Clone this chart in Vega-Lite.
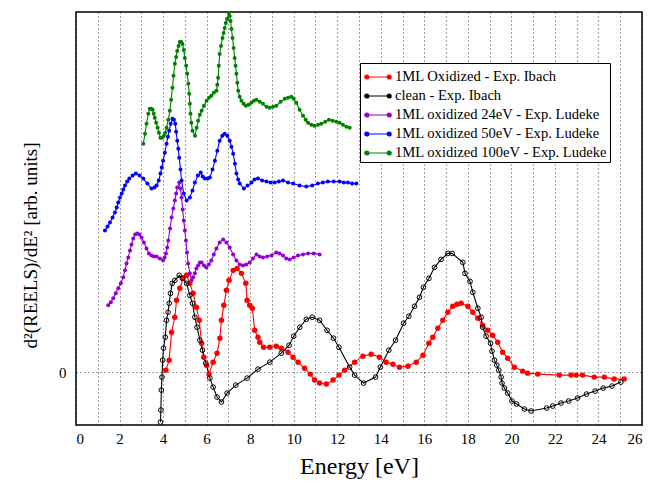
{
  "$schema": "https://vega.github.io/schema/vega-lite/v6.json",
  "width": 566,
  "height": 413,
  "autosize": {"type": "none"},
  "padding": {"left": 76, "top": 12, "right": 10, "bottom": 62},
  "background": "white",
  "config": {
    "font": "Liberation Serif",
    "view": {"stroke": "#000", "strokeWidth": 1.5}
  },
  "data": {"values": [
    {"s":"1ML Oxidized - Exp. Ibach","x":4.13,"y":2},
    {"s":"1ML Oxidized - Exp. Ibach","x":4.28,"y":12},
    {"s":"1ML Oxidized - Exp. Ibach","x":4.39,"y":40},
    {"s":"1ML Oxidized - Exp. Ibach","x":4.54,"y":55},
    {"s":"1ML Oxidized - Exp. Ibach","x":4.62,"y":72},
    {"s":"1ML Oxidized - Exp. Ibach","x":4.77,"y":84},
    {"s":"1ML Oxidized - Exp. Ibach","x":4.92,"y":94},
    {"s":"1ML Oxidized - Exp. Ibach","x":5.08,"y":97},
    {"s":"1ML Oxidized - Exp. Ibach","x":5.23,"y":89},
    {"s":"1ML Oxidized - Exp. Ibach","x":5.38,"y":79},
    {"s":"1ML Oxidized - Exp. Ibach","x":5.53,"y":65},
    {"s":"1ML Oxidized - Exp. Ibach","x":5.66,"y":52},
    {"s":"1ML Oxidized - Exp. Ibach","x":5.77,"y":29},
    {"s":"1ML Oxidized - Exp. Ibach","x":5.87,"y":15},
    {"s":"1ML Oxidized - Exp. Ibach","x":6.0,"y":7},
    {"s":"1ML Oxidized - Exp. Ibach","x":6.11,"y":-2},
    {"s":"1ML Oxidized - Exp. Ibach","x":6.3,"y":10},
    {"s":"1ML Oxidized - Exp. Ibach","x":6.48,"y":19},
    {"s":"1ML Oxidized - Exp. Ibach","x":6.61,"y":34},
    {"s":"1ML Oxidized - Exp. Ibach","x":6.68,"y":52},
    {"s":"1ML Oxidized - Exp. Ibach","x":6.79,"y":67},
    {"s":"1ML Oxidized - Exp. Ibach","x":6.91,"y":82},
    {"s":"1ML Oxidized - Exp. Ibach","x":7.03,"y":92},
    {"s":"1ML Oxidized - Exp. Ibach","x":7.22,"y":102},
    {"s":"1ML Oxidized - Exp. Ibach","x":7.4,"y":104},
    {"s":"1ML Oxidized - Exp. Ibach","x":7.6,"y":99},
    {"s":"1ML Oxidized - Exp. Ibach","x":7.8,"y":89},
    {"s":"1ML Oxidized - Exp. Ibach","x":7.86,"y":72},
    {"s":"1ML Oxidized - Exp. Ibach","x":7.98,"y":67},
    {"s":"1ML Oxidized - Exp. Ibach","x":8.1,"y":64},
    {"s":"1ML Oxidized - Exp. Ibach","x":8.21,"y":42},
    {"s":"1ML Oxidized - Exp. Ibach","x":8.36,"y":35},
    {"s":"1ML Oxidized - Exp. Ibach","x":8.44,"y":30},
    {"s":"1ML Oxidized - Exp. Ibach","x":8.62,"y":25},
    {"s":"1ML Oxidized - Exp. Ibach","x":8.9,"y":25},
    {"s":"1ML Oxidized - Exp. Ibach","x":9.2,"y":26},
    {"s":"1ML Oxidized - Exp. Ibach","x":9.43,"y":24},
    {"s":"1ML Oxidized - Exp. Ibach","x":9.74,"y":20},
    {"s":"1ML Oxidized - Exp. Ibach","x":9.97,"y":15},
    {"s":"1ML Oxidized - Exp. Ibach","x":10.2,"y":10},
    {"s":"1ML Oxidized - Exp. Ibach","x":10.5,"y":4},
    {"s":"1ML Oxidized - Exp. Ibach","x":10.76,"y":-2},
    {"s":"1ML Oxidized - Exp. Ibach","x":10.96,"y":-8},
    {"s":"1ML Oxidized - Exp. Ibach","x":11.19,"y":-11},
    {"s":"1ML Oxidized - Exp. Ibach","x":11.5,"y":-12},
    {"s":"1ML Oxidized - Exp. Ibach","x":11.81,"y":-8},
    {"s":"1ML Oxidized - Exp. Ibach","x":12.08,"y":-3},
    {"s":"1ML Oxidized - Exp. Ibach","x":12.34,"y":2},
    {"s":"1ML Oxidized - Exp. Ibach","x":12.8,"y":10},
    {"s":"1ML Oxidized - Exp. Ibach","x":13.18,"y":16},
    {"s":"1ML Oxidized - Exp. Ibach","x":13.56,"y":18},
    {"s":"1ML Oxidized - Exp. Ibach","x":13.94,"y":15},
    {"s":"1ML Oxidized - Exp. Ibach","x":14.25,"y":10},
    {"s":"1ML Oxidized - Exp. Ibach","x":14.56,"y":8},
    {"s":"1ML Oxidized - Exp. Ibach","x":14.86,"y":5},
    {"s":"1ML Oxidized - Exp. Ibach","x":15.25,"y":6},
    {"s":"1ML Oxidized - Exp. Ibach","x":15.63,"y":10},
    {"s":"1ML Oxidized - Exp. Ibach","x":15.94,"y":17},
    {"s":"1ML Oxidized - Exp. Ibach","x":16.21,"y":29},
    {"s":"1ML Oxidized - Exp. Ibach","x":16.39,"y":35},
    {"s":"1ML Oxidized - Exp. Ibach","x":16.62,"y":44},
    {"s":"1ML Oxidized - Exp. Ibach","x":16.85,"y":52},
    {"s":"1ML Oxidized - Exp. Ibach","x":17.08,"y":60},
    {"s":"1ML Oxidized - Exp. Ibach","x":17.31,"y":66},
    {"s":"1ML Oxidized - Exp. Ibach","x":17.5,"y":68},
    {"s":"1ML Oxidized - Exp. Ibach","x":17.69,"y":69},
    {"s":"1ML Oxidized - Exp. Ibach","x":18.0,"y":66},
    {"s":"1ML Oxidized - Exp. Ibach","x":18.23,"y":60},
    {"s":"1ML Oxidized - Exp. Ibach","x":18.46,"y":54},
    {"s":"1ML Oxidized - Exp. Ibach","x":18.68,"y":47},
    {"s":"1ML Oxidized - Exp. Ibach","x":18.91,"y":42},
    {"s":"1ML Oxidized - Exp. Ibach","x":19.14,"y":37},
    {"s":"1ML Oxidized - Exp. Ibach","x":19.37,"y":30},
    {"s":"1ML Oxidized - Exp. Ibach","x":19.6,"y":20},
    {"s":"1ML Oxidized - Exp. Ibach","x":19.83,"y":14},
    {"s":"1ML Oxidized - Exp. Ibach","x":20.14,"y":5},
    {"s":"1ML Oxidized - Exp. Ibach","x":20.52,"y":1},
    {"s":"1ML Oxidized - Exp. Ibach","x":20.75,"y":-1},
    {"s":"1ML Oxidized - Exp. Ibach","x":21.21,"y":-2},
    {"s":"1ML Oxidized - Exp. Ibach","x":22.2,"y":-3},
    {"s":"1ML Oxidized - Exp. Ibach","x":22.74,"y":-3},
    {"s":"1ML Oxidized - Exp. Ibach","x":22.97,"y":-3},
    {"s":"1ML Oxidized - Exp. Ibach","x":23.27,"y":-3},
    {"s":"1ML Oxidized - Exp. Ibach","x":23.81,"y":-5},
    {"s":"1ML Oxidized - Exp. Ibach","x":24.27,"y":-5},
    {"s":"1ML Oxidized - Exp. Ibach","x":24.72,"y":-7},
    {"s":"1ML Oxidized - Exp. Ibach","x":25.18,"y":-7},

    {"s":"clean - Exp. Ibach","x":3.88,"y":-50},
    {"s":"clean - Exp. Ibach","x":3.9,"y":-38},
    {"s":"clean - Exp. Ibach","x":3.92,"y":-18},
    {"s":"clean - Exp. Ibach","x":3.95,"y":-5},
    {"s":"clean - Exp. Ibach","x":3.98,"y":12},
    {"s":"clean - Exp. Ibach","x":4.02,"y":24},
    {"s":"clean - Exp. Ibach","x":4.1,"y":35},
    {"s":"clean - Exp. Ibach","x":4.16,"y":52},
    {"s":"clean - Exp. Ibach","x":4.23,"y":60},
    {"s":"clean - Exp. Ibach","x":4.28,"y":69},
    {"s":"clean - Exp. Ibach","x":4.34,"y":79},
    {"s":"clean - Exp. Ibach","x":4.42,"y":89},
    {"s":"clean - Exp. Ibach","x":4.54,"y":92},
    {"s":"clean - Exp. Ibach","x":4.74,"y":97},
    {"s":"clean - Exp. Ibach","x":4.89,"y":94},
    {"s":"clean - Exp. Ibach","x":5.08,"y":89},
    {"s":"clean - Exp. Ibach","x":5.23,"y":77},
    {"s":"clean - Exp. Ibach","x":5.35,"y":69},
    {"s":"clean - Exp. Ibach","x":5.46,"y":55},
    {"s":"clean - Exp. Ibach","x":5.56,"y":45},
    {"s":"clean - Exp. Ibach","x":5.69,"y":32},
    {"s":"clean - Exp. Ibach","x":5.81,"y":22},
    {"s":"clean - Exp. Ibach","x":5.96,"y":9},
    {"s":"clean - Exp. Ibach","x":6.15,"y":-6},
    {"s":"clean - Exp. Ibach","x":6.3,"y":-15},
    {"s":"clean - Exp. Ibach","x":6.48,"y":-25},
    {"s":"clean - Exp. Ibach","x":6.68,"y":-30},
    {"s":"clean - Exp. Ibach","x":6.94,"y":-21},
    {"s":"clean - Exp. Ibach","x":7.34,"y":-13},
    {"s":"clean - Exp. Ibach","x":7.86,"y":-6},
    {"s":"clean - Exp. Ibach","x":8.36,"y":3},
    {"s":"clean - Exp. Ibach","x":8.9,"y":10},
    {"s":"clean - Exp. Ibach","x":9.43,"y":19},
    {"s":"clean - Exp. Ibach","x":9.79,"y":27},
    {"s":"clean - Exp. Ibach","x":10.0,"y":36},
    {"s":"clean - Exp. Ibach","x":10.28,"y":45},
    {"s":"clean - Exp. Ibach","x":10.58,"y":53},
    {"s":"clean - Exp. Ibach","x":10.85,"y":55},
    {"s":"clean - Exp. Ibach","x":11.19,"y":52},
    {"s":"clean - Exp. Ibach","x":11.53,"y":42},
    {"s":"clean - Exp. Ibach","x":11.83,"y":34},
    {"s":"clean - Exp. Ibach","x":12.08,"y":25},
    {"s":"clean - Exp. Ibach","x":12.57,"y":5},
    {"s":"clean - Exp. Ibach","x":12.8,"y":-3},
    {"s":"clean - Exp. Ibach","x":13.21,"y":-11},
    {"s":"clean - Exp. Ibach","x":13.76,"y":-5},
    {"s":"clean - Exp. Ibach","x":13.98,"y":5},
    {"s":"clean - Exp. Ibach","x":14.37,"y":22},
    {"s":"clean - Exp. Ibach","x":14.68,"y":32},
    {"s":"clean - Exp. Ibach","x":15.05,"y":49},
    {"s":"clean - Exp. Ibach","x":15.29,"y":56},
    {"s":"clean - Exp. Ibach","x":15.55,"y":66},
    {"s":"clean - Exp. Ibach","x":15.78,"y":75},
    {"s":"clean - Exp. Ibach","x":15.96,"y":85},
    {"s":"clean - Exp. Ibach","x":16.21,"y":94},
    {"s":"clean - Exp. Ibach","x":16.47,"y":105},
    {"s":"clean - Exp. Ibach","x":16.77,"y":113},
    {"s":"clean - Exp. Ibach","x":17.08,"y":119},
    {"s":"clean - Exp. Ibach","x":17.28,"y":119},
    {"s":"clean - Exp. Ibach","x":17.77,"y":110},
    {"s":"clean - Exp. Ibach","x":17.87,"y":99},
    {"s":"clean - Exp. Ibach","x":18.1,"y":91},
    {"s":"clean - Exp. Ibach","x":18.23,"y":80},
    {"s":"clean - Exp. Ibach","x":18.46,"y":64},
    {"s":"clean - Exp. Ibach","x":18.61,"y":55},
    {"s":"clean - Exp. Ibach","x":18.68,"y":45},
    {"s":"clean - Exp. Ibach","x":18.84,"y":36},
    {"s":"clean - Exp. Ibach","x":19.04,"y":29},
    {"s":"clean - Exp. Ibach","x":19.11,"y":21},
    {"s":"clean - Exp. Ibach","x":19.22,"y":12},
    {"s":"clean - Exp. Ibach","x":19.33,"y":7},
    {"s":"clean - Exp. Ibach","x":19.42,"y":2},
    {"s":"clean - Exp. Ibach","x":19.53,"y":-5},
    {"s":"clean - Exp. Ibach","x":19.57,"y":-11},
    {"s":"clean - Exp. Ibach","x":19.68,"y":-16},
    {"s":"clean - Exp. Ibach","x":19.83,"y":-21},
    {"s":"clean - Exp. Ibach","x":20.03,"y":-29},
    {"s":"clean - Exp. Ibach","x":20.24,"y":-32},
    {"s":"clean - Exp. Ibach","x":20.6,"y":-37},
    {"s":"clean - Exp. Ibach","x":20.9,"y":-39},
    {"s":"clean - Exp. Ibach","x":21.62,"y":-36},
    {"s":"clean - Exp. Ibach","x":21.9,"y":-34},
    {"s":"clean - Exp. Ibach","x":22.28,"y":-31},
    {"s":"clean - Exp. Ibach","x":22.63,"y":-29},
    {"s":"clean - Exp. Ibach","x":23.04,"y":-26},
    {"s":"clean - Exp. Ibach","x":23.45,"y":-22},
    {"s":"clean - Exp. Ibach","x":23.85,"y":-19},
    {"s":"clean - Exp. Ibach","x":24.22,"y":-16},
    {"s":"clean - Exp. Ibach","x":24.62,"y":-14},
    {"s":"clean - Exp. Ibach","x":25.03,"y":-10},

    {"s":"1ML oxidized 24eV - Exp. Ludeke","x":1.48,"y":67},
    {"s":"1ML oxidized 24eV - Exp. Ludeke","x":1.6,"y":70},
    {"s":"1ML oxidized 24eV - Exp. Ludeke","x":1.71,"y":74},
    {"s":"1ML oxidized 24eV - Exp. Ludeke","x":1.83,"y":79},
    {"s":"1ML oxidized 24eV - Exp. Ludeke","x":1.94,"y":84},
    {"s":"1ML oxidized 24eV - Exp. Ludeke","x":2.06,"y":89},
    {"s":"1ML oxidized 24eV - Exp. Ludeke","x":2.17,"y":95},
    {"s":"1ML oxidized 24eV - Exp. Ludeke","x":2.25,"y":102},
    {"s":"1ML oxidized 24eV - Exp. Ludeke","x":2.32,"y":109},
    {"s":"1ML oxidized 24eV - Exp. Ludeke","x":2.4,"y":115},
    {"s":"1ML oxidized 24eV - Exp. Ludeke","x":2.48,"y":122},
    {"s":"1ML oxidized 24eV - Exp. Ludeke","x":2.55,"y":128},
    {"s":"1ML oxidized 24eV - Exp. Ludeke","x":2.63,"y":134},
    {"s":"1ML oxidized 24eV - Exp. Ludeke","x":2.72,"y":138},
    {"s":"1ML oxidized 24eV - Exp. Ludeke","x":2.81,"y":139},
    {"s":"1ML oxidized 24eV - Exp. Ludeke","x":2.91,"y":138},
    {"s":"1ML oxidized 24eV - Exp. Ludeke","x":3.01,"y":135},
    {"s":"1ML oxidized 24eV - Exp. Ludeke","x":3.12,"y":130},
    {"s":"1ML oxidized 24eV - Exp. Ludeke","x":3.24,"y":124},
    {"s":"1ML oxidized 24eV - Exp. Ludeke","x":3.35,"y":119},
    {"s":"1ML oxidized 24eV - Exp. Ludeke","x":3.47,"y":117},
    {"s":"1ML oxidized 24eV - Exp. Ludeke","x":3.58,"y":116},
    {"s":"1ML oxidized 24eV - Exp. Ludeke","x":3.7,"y":116},
    {"s":"1ML oxidized 24eV - Exp. Ludeke","x":3.85,"y":114},
    {"s":"1ML oxidized 24eV - Exp. Ludeke","x":4.0,"y":112},
    {"s":"1ML oxidized 24eV - Exp. Ludeke","x":4.07,"y":115},
    {"s":"1ML oxidized 24eV - Exp. Ludeke","x":4.13,"y":119},
    {"s":"1ML oxidized 24eV - Exp. Ludeke","x":4.19,"y":125},
    {"s":"1ML oxidized 24eV - Exp. Ludeke","x":4.24,"y":132},
    {"s":"1ML oxidized 24eV - Exp. Ludeke","x":4.32,"y":144},
    {"s":"1ML oxidized 24eV - Exp. Ludeke","x":4.39,"y":155},
    {"s":"1ML oxidized 24eV - Exp. Ludeke","x":4.47,"y":164},
    {"s":"1ML oxidized 24eV - Exp. Ludeke","x":4.54,"y":172},
    {"s":"1ML oxidized 24eV - Exp. Ludeke","x":4.6,"y":179},
    {"s":"1ML oxidized 24eV - Exp. Ludeke","x":4.65,"y":185},
    {"s":"1ML oxidized 24eV - Exp. Ludeke","x":4.74,"y":190},
    {"s":"1ML oxidized 24eV - Exp. Ludeke","x":4.8,"y":184},
    {"s":"1ML oxidized 24eV - Exp. Ludeke","x":4.85,"y":175},
    {"s":"1ML oxidized 24eV - Exp. Ludeke","x":4.9,"y":163},
    {"s":"1ML oxidized 24eV - Exp. Ludeke","x":4.95,"y":152},
    {"s":"1ML oxidized 24eV - Exp. Ludeke","x":5.0,"y":142},
    {"s":"1ML oxidized 24eV - Exp. Ludeke","x":5.05,"y":132},
    {"s":"1ML oxidized 24eV - Exp. Ludeke","x":5.1,"y":120},
    {"s":"1ML oxidized 24eV - Exp. Ludeke","x":5.15,"y":109},
    {"s":"1ML oxidized 24eV - Exp. Ludeke","x":5.23,"y":99},
    {"s":"1ML oxidized 24eV - Exp. Ludeke","x":5.31,"y":92},
    {"s":"1ML oxidized 24eV - Exp. Ludeke","x":5.38,"y":95},
    {"s":"1ML oxidized 24eV - Exp. Ludeke","x":5.46,"y":99},
    {"s":"1ML oxidized 24eV - Exp. Ludeke","x":5.53,"y":104},
    {"s":"1ML oxidized 24eV - Exp. Ludeke","x":5.61,"y":107},
    {"s":"1ML oxidized 24eV - Exp. Ludeke","x":5.69,"y":110},
    {"s":"1ML oxidized 24eV - Exp. Ludeke","x":5.77,"y":110},
    {"s":"1ML oxidized 24eV - Exp. Ludeke","x":5.88,"y":107},
    {"s":"1ML oxidized 24eV - Exp. Ludeke","x":5.99,"y":105},
    {"s":"1ML oxidized 24eV - Exp. Ludeke","x":6.1,"y":108},
    {"s":"1ML oxidized 24eV - Exp. Ludeke","x":6.22,"y":112},
    {"s":"1ML oxidized 24eV - Exp. Ludeke","x":6.33,"y":118},
    {"s":"1ML oxidized 24eV - Exp. Ludeke","x":6.45,"y":124},
    {"s":"1ML oxidized 24eV - Exp. Ludeke","x":6.6,"y":130},
    {"s":"1ML oxidized 24eV - Exp. Ludeke","x":6.76,"y":133},
    {"s":"1ML oxidized 24eV - Exp. Ludeke","x":6.91,"y":130},
    {"s":"1ML oxidized 24eV - Exp. Ludeke","x":7.06,"y":125},
    {"s":"1ML oxidized 24eV - Exp. Ludeke","x":7.22,"y":118},
    {"s":"1ML oxidized 24eV - Exp. Ludeke","x":7.37,"y":112},
    {"s":"1ML oxidized 24eV - Exp. Ludeke","x":7.52,"y":108},
    {"s":"1ML oxidized 24eV - Exp. Ludeke","x":7.67,"y":107},
    {"s":"1ML oxidized 24eV - Exp. Ludeke","x":7.82,"y":108},
    {"s":"1ML oxidized 24eV - Exp. Ludeke","x":7.98,"y":110},
    {"s":"1ML oxidized 24eV - Exp. Ludeke","x":8.13,"y":114},
    {"s":"1ML oxidized 24eV - Exp. Ludeke","x":8.29,"y":118},
    {"s":"1ML oxidized 24eV - Exp. Ludeke","x":8.44,"y":116},
    {"s":"1ML oxidized 24eV - Exp. Ludeke","x":8.59,"y":115},
    {"s":"1ML oxidized 24eV - Exp. Ludeke","x":8.78,"y":116},
    {"s":"1ML oxidized 24eV - Exp. Ludeke","x":8.98,"y":117},
    {"s":"1ML oxidized 24eV - Exp. Ludeke","x":9.2,"y":120},
    {"s":"1ML oxidized 24eV - Exp. Ludeke","x":9.35,"y":119},
    {"s":"1ML oxidized 24eV - Exp. Ludeke","x":9.51,"y":117},
    {"s":"1ML oxidized 24eV - Exp. Ludeke","x":9.66,"y":114},
    {"s":"1ML oxidized 24eV - Exp. Ludeke","x":9.82,"y":113},
    {"s":"1ML oxidized 24eV - Exp. Ludeke","x":10.0,"y":115},
    {"s":"1ML oxidized 24eV - Exp. Ludeke","x":10.2,"y":117},
    {"s":"1ML oxidized 24eV - Exp. Ludeke","x":10.43,"y":118},
    {"s":"1ML oxidized 24eV - Exp. Ludeke","x":10.66,"y":119},
    {"s":"1ML oxidized 24eV - Exp. Ludeke","x":10.92,"y":119},
    {"s":"1ML oxidized 24eV - Exp. Ludeke","x":11.19,"y":118},

    {"s":"1ML oxidized 50eV - Exp. Ludeke","x":1.33,"y":142},
    {"s":"1ML oxidized 50eV - Exp. Ludeke","x":1.45,"y":146},
    {"s":"1ML oxidized 50eV - Exp. Ludeke","x":1.56,"y":150},
    {"s":"1ML oxidized 50eV - Exp. Ludeke","x":1.68,"y":155},
    {"s":"1ML oxidized 50eV - Exp. Ludeke","x":1.79,"y":160},
    {"s":"1ML oxidized 50eV - Exp. Ludeke","x":1.87,"y":165},
    {"s":"1ML oxidized 50eV - Exp. Ludeke","x":1.94,"y":170},
    {"s":"1ML oxidized 50eV - Exp. Ludeke","x":2.02,"y":175},
    {"s":"1ML oxidized 50eV - Exp. Ludeke","x":2.1,"y":179},
    {"s":"1ML oxidized 50eV - Exp. Ludeke","x":2.17,"y":183},
    {"s":"1ML oxidized 50eV - Exp. Ludeke","x":2.25,"y":187},
    {"s":"1ML oxidized 50eV - Exp. Ludeke","x":2.35,"y":191},
    {"s":"1ML oxidized 50eV - Exp. Ludeke","x":2.45,"y":194},
    {"s":"1ML oxidized 50eV - Exp. Ludeke","x":2.6,"y":197},
    {"s":"1ML oxidized 50eV - Exp. Ludeke","x":2.75,"y":199},
    {"s":"1ML oxidized 50eV - Exp. Ludeke","x":2.92,"y":197},
    {"s":"1ML oxidized 50eV - Exp. Ludeke","x":3.09,"y":194},
    {"s":"1ML oxidized 50eV - Exp. Ludeke","x":3.28,"y":189},
    {"s":"1ML oxidized 50eV - Exp. Ludeke","x":3.47,"y":184},
    {"s":"1ML oxidized 50eV - Exp. Ludeke","x":3.6,"y":185},
    {"s":"1ML oxidized 50eV - Exp. Ludeke","x":3.7,"y":187},
    {"s":"1ML oxidized 50eV - Exp. Ludeke","x":3.8,"y":192},
    {"s":"1ML oxidized 50eV - Exp. Ludeke","x":3.88,"y":199},
    {"s":"1ML oxidized 50eV - Exp. Ludeke","x":3.94,"y":205},
    {"s":"1ML oxidized 50eV - Exp. Ludeke","x":4.0,"y":212},
    {"s":"1ML oxidized 50eV - Exp. Ludeke","x":4.08,"y":220},
    {"s":"1ML oxidized 50eV - Exp. Ludeke","x":4.16,"y":229},
    {"s":"1ML oxidized 50eV - Exp. Ludeke","x":4.22,"y":236},
    {"s":"1ML oxidized 50eV - Exp. Ludeke","x":4.28,"y":242},
    {"s":"1ML oxidized 50eV - Exp. Ludeke","x":4.35,"y":249},
    {"s":"1ML oxidized 50eV - Exp. Ludeke","x":4.43,"y":254},
    {"s":"1ML oxidized 50eV - Exp. Ludeke","x":4.5,"y":253},
    {"s":"1ML oxidized 50eV - Exp. Ludeke","x":4.56,"y":249},
    {"s":"1ML oxidized 50eV - Exp. Ludeke","x":4.6,"y":241},
    {"s":"1ML oxidized 50eV - Exp. Ludeke","x":4.65,"y":232},
    {"s":"1ML oxidized 50eV - Exp. Ludeke","x":4.7,"y":224},
    {"s":"1ML oxidized 50eV - Exp. Ludeke","x":4.74,"y":215},
    {"s":"1ML oxidized 50eV - Exp. Ludeke","x":4.8,"y":203},
    {"s":"1ML oxidized 50eV - Exp. Ludeke","x":4.85,"y":192},
    {"s":"1ML oxidized 50eV - Exp. Ludeke","x":4.95,"y":179},
    {"s":"1ML oxidized 50eV - Exp. Ludeke","x":5.08,"y":172},
    {"s":"1ML oxidized 50eV - Exp. Ludeke","x":5.23,"y":175},
    {"s":"1ML oxidized 50eV - Exp. Ludeke","x":5.35,"y":182},
    {"s":"1ML oxidized 50eV - Exp. Ludeke","x":5.46,"y":190},
    {"s":"1ML oxidized 50eV - Exp. Ludeke","x":5.6,"y":197},
    {"s":"1ML oxidized 50eV - Exp. Ludeke","x":5.73,"y":200},
    {"s":"1ML oxidized 50eV - Exp. Ludeke","x":5.82,"y":196},
    {"s":"1ML oxidized 50eV - Exp. Ludeke","x":5.92,"y":194},
    {"s":"1ML oxidized 50eV - Exp. Ludeke","x":6.04,"y":194},
    {"s":"1ML oxidized 50eV - Exp. Ludeke","x":6.15,"y":195},
    {"s":"1ML oxidized 50eV - Exp. Ludeke","x":6.27,"y":203},
    {"s":"1ML oxidized 50eV - Exp. Ludeke","x":6.38,"y":212},
    {"s":"1ML oxidized 50eV - Exp. Ludeke","x":6.49,"y":222},
    {"s":"1ML oxidized 50eV - Exp. Ludeke","x":6.6,"y":232},
    {"s":"1ML oxidized 50eV - Exp. Ludeke","x":6.72,"y":237},
    {"s":"1ML oxidized 50eV - Exp. Ludeke","x":6.83,"y":239},
    {"s":"1ML oxidized 50eV - Exp. Ludeke","x":6.95,"y":237},
    {"s":"1ML oxidized 50eV - Exp. Ludeke","x":7.06,"y":232},
    {"s":"1ML oxidized 50eV - Exp. Ludeke","x":7.14,"y":226},
    {"s":"1ML oxidized 50eV - Exp. Ludeke","x":7.22,"y":219},
    {"s":"1ML oxidized 50eV - Exp. Ludeke","x":7.3,"y":209},
    {"s":"1ML oxidized 50eV - Exp. Ludeke","x":7.37,"y":199},
    {"s":"1ML oxidized 50eV - Exp. Ludeke","x":7.45,"y":193},
    {"s":"1ML oxidized 50eV - Exp. Ludeke","x":7.52,"y":189},
    {"s":"1ML oxidized 50eV - Exp. Ludeke","x":7.71,"y":184},
    {"s":"1ML oxidized 50eV - Exp. Ludeke","x":7.88,"y":187},
    {"s":"1ML oxidized 50eV - Exp. Ludeke","x":8.06,"y":190},
    {"s":"1ML oxidized 50eV - Exp. Ludeke","x":8.2,"y":193},
    {"s":"1ML oxidized 50eV - Exp. Ludeke","x":8.36,"y":194},
    {"s":"1ML oxidized 50eV - Exp. Ludeke","x":8.55,"y":192},
    {"s":"1ML oxidized 50eV - Exp. Ludeke","x":8.75,"y":191},
    {"s":"1ML oxidized 50eV - Exp. Ludeke","x":8.94,"y":190},
    {"s":"1ML oxidized 50eV - Exp. Ludeke","x":9.13,"y":190},
    {"s":"1ML oxidized 50eV - Exp. Ludeke","x":9.32,"y":191},
    {"s":"1ML oxidized 50eV - Exp. Ludeke","x":9.51,"y":192},
    {"s":"1ML oxidized 50eV - Exp. Ludeke","x":9.74,"y":190},
    {"s":"1ML oxidized 50eV - Exp. Ludeke","x":9.97,"y":189},
    {"s":"1ML oxidized 50eV - Exp. Ludeke","x":10.27,"y":187},
    {"s":"1ML oxidized 50eV - Exp. Ludeke","x":10.58,"y":186},
    {"s":"1ML oxidized 50eV - Exp. Ludeke","x":10.85,"y":187},
    {"s":"1ML oxidized 50eV - Exp. Ludeke","x":11.11,"y":189},
    {"s":"1ML oxidized 50eV - Exp. Ludeke","x":11.34,"y":190},
    {"s":"1ML oxidized 50eV - Exp. Ludeke","x":11.57,"y":191},
    {"s":"1ML oxidized 50eV - Exp. Ludeke","x":11.84,"y":191},
    {"s":"1ML oxidized 50eV - Exp. Ludeke","x":12.11,"y":191},
    {"s":"1ML oxidized 50eV - Exp. Ludeke","x":12.3,"y":190},
    {"s":"1ML oxidized 50eV - Exp. Ludeke","x":12.49,"y":190},
    {"s":"1ML oxidized 50eV - Exp. Ludeke","x":12.68,"y":189},
    {"s":"1ML oxidized 50eV - Exp. Ludeke","x":12.88,"y":189},

    {"s":"1ML oxidized 100eV - Exp. Ludeke","x":3.09,"y":229},
    {"s":"1ML oxidized 100eV - Exp. Ludeke","x":3.17,"y":239},
    {"s":"1ML oxidized 100eV - Exp. Ludeke","x":3.24,"y":249},
    {"s":"1ML oxidized 100eV - Exp. Ludeke","x":3.32,"y":259},
    {"s":"1ML oxidized 100eV - Exp. Ludeke","x":3.39,"y":264},
    {"s":"1ML oxidized 100eV - Exp. Ludeke","x":3.45,"y":264},
    {"s":"1ML oxidized 100eV - Exp. Ludeke","x":3.52,"y":263},
    {"s":"1ML oxidized 100eV - Exp. Ludeke","x":3.57,"y":259},
    {"s":"1ML oxidized 100eV - Exp. Ludeke","x":3.62,"y":255},
    {"s":"1ML oxidized 100eV - Exp. Ludeke","x":3.68,"y":250},
    {"s":"1ML oxidized 100eV - Exp. Ludeke","x":3.75,"y":245},
    {"s":"1ML oxidized 100eV - Exp. Ludeke","x":3.81,"y":240},
    {"s":"1ML oxidized 100eV - Exp. Ludeke","x":3.88,"y":235},
    {"s":"1ML oxidized 100eV - Exp. Ludeke","x":3.96,"y":235},
    {"s":"1ML oxidized 100eV - Exp. Ludeke","x":4.04,"y":237},
    {"s":"1ML oxidized 100eV - Exp. Ludeke","x":4.1,"y":240},
    {"s":"1ML oxidized 100eV - Exp. Ludeke","x":4.16,"y":245},
    {"s":"1ML oxidized 100eV - Exp. Ludeke","x":4.24,"y":253},
    {"s":"1ML oxidized 100eV - Exp. Ludeke","x":4.31,"y":262},
    {"s":"1ML oxidized 100eV - Exp. Ludeke","x":4.37,"y":273},
    {"s":"1ML oxidized 100eV - Exp. Ludeke","x":4.43,"y":285},
    {"s":"1ML oxidized 100eV - Exp. Ludeke","x":4.48,"y":297},
    {"s":"1ML oxidized 100eV - Exp. Ludeke","x":4.54,"y":309},
    {"s":"1ML oxidized 100eV - Exp. Ludeke","x":4.6,"y":316},
    {"s":"1ML oxidized 100eV - Exp. Ludeke","x":4.65,"y":322},
    {"s":"1ML oxidized 100eV - Exp. Ludeke","x":4.71,"y":327},
    {"s":"1ML oxidized 100eV - Exp. Ludeke","x":4.77,"y":331},
    {"s":"1ML oxidized 100eV - Exp. Ludeke","x":4.83,"y":331},
    {"s":"1ML oxidized 100eV - Exp. Ludeke","x":4.89,"y":329},
    {"s":"1ML oxidized 100eV - Exp. Ludeke","x":4.95,"y":323},
    {"s":"1ML oxidized 100eV - Exp. Ludeke","x":5.0,"y":315},
    {"s":"1ML oxidized 100eV - Exp. Ludeke","x":5.06,"y":307},
    {"s":"1ML oxidized 100eV - Exp. Ludeke","x":5.11,"y":299},
    {"s":"1ML oxidized 100eV - Exp. Ludeke","x":5.16,"y":289},
    {"s":"1ML oxidized 100eV - Exp. Ludeke","x":5.2,"y":279},
    {"s":"1ML oxidized 100eV - Exp. Ludeke","x":5.23,"y":269},
    {"s":"1ML oxidized 100eV - Exp. Ludeke","x":5.26,"y":259},
    {"s":"1ML oxidized 100eV - Exp. Ludeke","x":5.3,"y":250},
    {"s":"1ML oxidized 100eV - Exp. Ludeke","x":5.35,"y":242},
    {"s":"1ML oxidized 100eV - Exp. Ludeke","x":5.47,"y":237},
    {"s":"1ML oxidized 100eV - Exp. Ludeke","x":5.54,"y":245},
    {"s":"1ML oxidized 100eV - Exp. Ludeke","x":5.61,"y":252},
    {"s":"1ML oxidized 100eV - Exp. Ludeke","x":5.69,"y":258},
    {"s":"1ML oxidized 100eV - Exp. Ludeke","x":5.77,"y":262},
    {"s":"1ML oxidized 100eV - Exp. Ludeke","x":5.88,"y":267},
    {"s":"1ML oxidized 100eV - Exp. Ludeke","x":6.0,"y":272},
    {"s":"1ML oxidized 100eV - Exp. Ludeke","x":6.11,"y":275},
    {"s":"1ML oxidized 100eV - Exp. Ludeke","x":6.22,"y":277},
    {"s":"1ML oxidized 100eV - Exp. Ludeke","x":6.33,"y":280},
    {"s":"1ML oxidized 100eV - Exp. Ludeke","x":6.45,"y":282},
    {"s":"1ML oxidized 100eV - Exp. Ludeke","x":6.49,"y":288},
    {"s":"1ML oxidized 100eV - Exp. Ludeke","x":6.53,"y":295},
    {"s":"1ML oxidized 100eV - Exp. Ludeke","x":6.56,"y":307},
    {"s":"1ML oxidized 100eV - Exp. Ludeke","x":6.6,"y":319},
    {"s":"1ML oxidized 100eV - Exp. Ludeke","x":6.66,"y":327},
    {"s":"1ML oxidized 100eV - Exp. Ludeke","x":6.73,"y":335},
    {"s":"1ML oxidized 100eV - Exp. Ludeke","x":6.78,"y":340},
    {"s":"1ML oxidized 100eV - Exp. Ludeke","x":6.83,"y":345},
    {"s":"1ML oxidized 100eV - Exp. Ludeke","x":6.88,"y":350},
    {"s":"1ML oxidized 100eV - Exp. Ludeke","x":6.94,"y":354},
    {"s":"1ML oxidized 100eV - Exp. Ludeke","x":7.02,"y":360},
    {"s":"1ML oxidized 100eV - Exp. Ludeke","x":7.06,"y":357},
    {"s":"1ML oxidized 100eV - Exp. Ludeke","x":7.1,"y":352},
    {"s":"1ML oxidized 100eV - Exp. Ludeke","x":7.14,"y":344},
    {"s":"1ML oxidized 100eV - Exp. Ludeke","x":7.19,"y":335},
    {"s":"1ML oxidized 100eV - Exp. Ludeke","x":7.24,"y":325},
    {"s":"1ML oxidized 100eV - Exp. Ludeke","x":7.29,"y":315},
    {"s":"1ML oxidized 100eV - Exp. Ludeke","x":7.33,"y":307},
    {"s":"1ML oxidized 100eV - Exp. Ludeke","x":7.37,"y":299},
    {"s":"1ML oxidized 100eV - Exp. Ludeke","x":7.41,"y":290},
    {"s":"1ML oxidized 100eV - Exp. Ludeke","x":7.45,"y":282},
    {"s":"1ML oxidized 100eV - Exp. Ludeke","x":7.52,"y":276},
    {"s":"1ML oxidized 100eV - Exp. Ludeke","x":7.6,"y":272},
    {"s":"1ML oxidized 100eV - Exp. Ludeke","x":7.7,"y":269},
    {"s":"1ML oxidized 100eV - Exp. Ludeke","x":7.8,"y":267},
    {"s":"1ML oxidized 100eV - Exp. Ludeke","x":7.93,"y":268},
    {"s":"1ML oxidized 100eV - Exp. Ludeke","x":8.06,"y":270},
    {"s":"1ML oxidized 100eV - Exp. Ludeke","x":8.17,"y":272},
    {"s":"1ML oxidized 100eV - Exp. Ludeke","x":8.29,"y":273},
    {"s":"1ML oxidized 100eV - Exp. Ludeke","x":8.44,"y":271},
    {"s":"1ML oxidized 100eV - Exp. Ludeke","x":8.59,"y":269},
    {"s":"1ML oxidized 100eV - Exp. Ludeke","x":8.75,"y":266},
    {"s":"1ML oxidized 100eV - Exp. Ludeke","x":8.9,"y":265},
    {"s":"1ML oxidized 100eV - Exp. Ludeke","x":9.05,"y":266},
    {"s":"1ML oxidized 100eV - Exp. Ludeke","x":9.2,"y":267},
    {"s":"1ML oxidized 100eV - Exp. Ludeke","x":9.4,"y":271},
    {"s":"1ML oxidized 100eV - Exp. Ludeke","x":9.59,"y":274},
    {"s":"1ML oxidized 100eV - Exp. Ludeke","x":9.74,"y":275},
    {"s":"1ML oxidized 100eV - Exp. Ludeke","x":9.89,"y":276},
    {"s":"1ML oxidized 100eV - Exp. Ludeke","x":10.0,"y":274},
    {"s":"1ML oxidized 100eV - Exp. Ludeke","x":10.12,"y":270},
    {"s":"1ML oxidized 100eV - Exp. Ludeke","x":10.27,"y":263},
    {"s":"1ML oxidized 100eV - Exp. Ludeke","x":10.43,"y":257},
    {"s":"1ML oxidized 100eV - Exp. Ludeke","x":10.55,"y":253},
    {"s":"1ML oxidized 100eV - Exp. Ludeke","x":10.66,"y":250},
    {"s":"1ML oxidized 100eV - Exp. Ludeke","x":10.81,"y":248},
    {"s":"1ML oxidized 100eV - Exp. Ludeke","x":10.96,"y":247},
    {"s":"1ML oxidized 100eV - Exp. Ludeke","x":11.12,"y":248},
    {"s":"1ML oxidized 100eV - Exp. Ludeke","x":11.27,"y":249},
    {"s":"1ML oxidized 100eV - Exp. Ludeke","x":11.45,"y":251},
    {"s":"1ML oxidized 100eV - Exp. Ludeke","x":11.62,"y":253},
    {"s":"1ML oxidized 100eV - Exp. Ludeke","x":11.79,"y":252},
    {"s":"1ML oxidized 100eV - Exp. Ludeke","x":11.96,"y":251},
    {"s":"1ML oxidized 100eV - Exp. Ludeke","x":12.11,"y":250},
    {"s":"1ML oxidized 100eV - Exp. Ludeke","x":12.26,"y":248},
    {"s":"1ML oxidized 100eV - Exp. Ludeke","x":12.42,"y":246},
    {"s":"1ML oxidized 100eV - Exp. Ludeke","x":12.57,"y":245}
  ]},
  "encoding": {
    "x": {
      "field": "x", "type": "quantitative",
      "scale": {"domain": [0, 26], "nice": false, "zero": false},
      "axis": {
        "title": "Energy [eV]",
        "values": [0,1,2,3,4,5,6,7,8,9,10,11,12,13,14,15,16,17,18,19,20,21,22,23,24,25,26],
        "labelExpr": "datum.value % 2 == 0 ? datum.label : ''",
        "grid": true, "gridDash": [1, 3], "gridColor": "#000", "gridOpacity": 0.75, "gridWidth": 1,
        "ticks": false, "domain": false,
        "labelFont": "Liberation Serif", "labelFontSize": 15, "labelColor": "#000", "labelPadding": 6,
        "titleFont": "Liberation Serif", "titleFontSize": 24, "titleFontWeight": "normal", "titleColor": "#000", "titlePadding": 8
      }
    },
    "y": {
      "field": "y", "type": "quantitative",
      "scale": {"domain": [-53, 361], "nice": false, "zero": false},
      "axis": {
        "title": "d²(REELS)/dE²   [arb. units]",
        "values": [0],
        "grid": true, "gridDash": [1, 3], "gridColor": "#000", "gridOpacity": 0.75,
        "ticks": false, "domain": false,
        "labelFont": "Liberation Serif", "labelFontSize": 15, "labelColor": "#000", "labelPadding": 10,
        "titleFont": "Liberation Serif", "titleFontSize": 19, "titleFontWeight": "normal", "titleColor": "#000",
        "titleX": -36, "titleY": 233, "titleAngle": -90, "titleAlign": "center", "titleBaseline": "bottom"
      }
    },
    "color": {
      "field": "s", "type": "nominal",
      "scale": {
        "domain": ["1ML Oxidized - Exp. Ibach", "clean - Exp. Ibach", "1ML oxidized 24eV - Exp. Ludeke", "1ML oxidized 50eV - Exp. Ludeke", "1ML oxidized 100eV - Exp. Ludeke"],
        "range": ["#ff0000", "#000000", "#9400d3", "#0000ff", "#008000"]
      }
    }
  },
  "layer": [
    {
      "mark": {"type": "line", "strokeWidth": 1.1},
      "encoding": {
        "color": {
          "field": "s", "type": "nominal",
          "legend": {
            "title": null,
            "orient": "none", "legendX": 284, "legendY": 51,
            "direction": "vertical",
            "fillColor": "white", "strokeColor": "#000", "cornerRadius": 0, "padding": 2,
            "labelFont": "Liberation Serif", "labelFontSize": 14.6, "labelColor": "#000", "labelOffset": 5, "labelLimit": 0,
            "symbolType": "M-1,0L1,0M-1.18,0A0.18,0.18,0,1,0,-0.82,0A0.18,0.18,0,1,0,-1.18,0M0.82,0A0.18,0.18,0,1,0,1.18,0A0.18,0.18,0,1,0,0.82,0",
            "symbolSize": 500, "symbolStrokeWidth": 1.2, "rowPadding": -4.5, "symbolOffset": 4,
            "encode": {
              "symbols": {"update": {
                "fill": [{"test": "datum.value === 'clean - Exp. Ibach'", "value": "white"}, {"scale": "color", "field": "value"}],
                "stroke": {"scale": "color", "field": "value"}
              }}
            }
          }
        }
      }
    },
    {
      "transform": [{"filter": "datum.s !== 'clean - Exp. Ibach'"}],
      "mark": {"type": "circle", "opacity": 1},
      "encoding": {
        "size": {"condition": {"test": "datum.s === '1ML Oxidized - Exp. Ibach'", "value": 30}, "value": 16}
      }
    },
    {
      "transform": [{"filter": "datum.s === 'clean - Exp. Ibach'"}],
      "mark": {"type": "point", "shape": "circle", "filled": false, "size": 22, "strokeWidth": 1, "opacity": 1, "color": "#333"}
    }
  ]
}
